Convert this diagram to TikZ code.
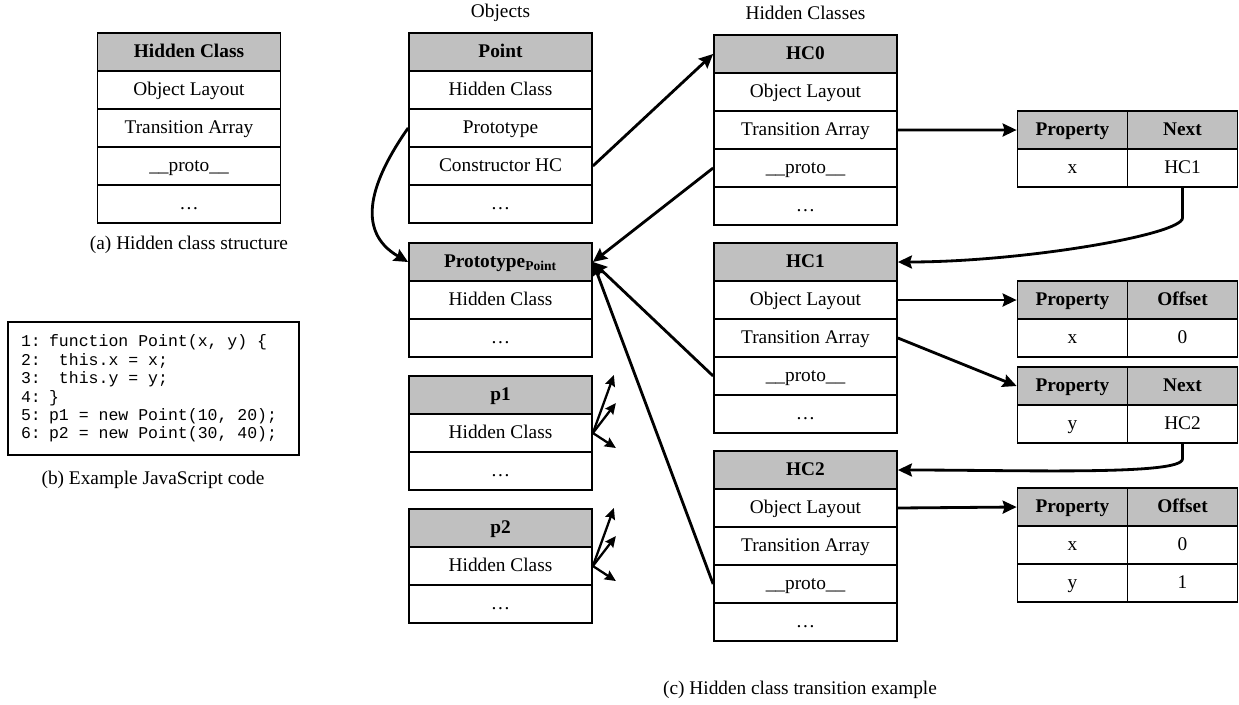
\documentclass[tikz,border=0pt]{standalone}
\usepackage{fontspec}
\setmainfont{Liberation Serif}
\newfontfamily\codefont{Liberation Mono}
\usetikzlibrary{arrows.meta}
\definecolor{hdrgray}{RGB}{192,192,192}
\newcommand{\boxfont}{\fontsize{11}{13}\selectfont}
\newcommand{\codespace}{\spaceskip=0.6em\relax}
\tikzstyle{head} = [rectangle, minimum width=3.66cm, minimum height=0.76cm, text height=0.8em, text depth=0.12em, text centered, draw=black, line width=1pt, fill=hdrgray, font=\boxfont\bfseries]
\tikzstyle{field} = [rectangle, minimum width=3.66cm, minimum height=0.76cm, text height=0.8em, text depth=0.12em, text centered, draw=black, line width=1pt, fill=white, font=\boxfont]
\tikzstyle{colhead} = [head, minimum width=2.2cm]
\tikzstyle{cell} = [field, minimum width=2.2cm]
\tikzstyle{code} = [rectangle, draw=black, line width=1pt, minimum width=5.82cm, minimum height=2.66cm, inner xsep=0.26cm, text width=5.3cm, align=left, font=\codefont\fontsize{9.4}{10.5}\selectfont]
\tikzstyle{caption} = [text centered, font=\boxfont]
\tikzstyle{arrow} = [line width=1.6pt,->,>={Stealth[length=2.8mm,width=2.6mm,inset=0.4mm]}]
\tikzstyle{fan} = [line width=1.3pt,->,>={Stealth[length=2.2mm,width=2mm,inset=0.3mm]}]

\begin{document}
\begin{tikzpicture}[node distance=0.76cm]
	\useasboundingbox (0,0) rectangle (24.78,-14.08);

	% (a) structure
	\node (hcA) [head] at (3.78,-1.04) {Hidden Class};
	\node (hcAol) [field, below of=hcA] {Object Layout};
	\node (hcAta) [field, below of=hcAol] {Transition Array};
	\node (hcApr) [field, below of=hcAta] {\_\_proto\_\_};
	\node (hcAdt) [field, below of=hcApr] {\dots};
	\node (capA) [caption] at (3.78,-4.9) {(a) Hidden class structure};

	% (b) code
	\node (code) [code] at (3.07,-7.77) {\codespace 1: function Point(x, y) \{\\\codespace 2: ~this.x = x;\\\codespace 3: ~this.y = y;\\4: \}\\\codespace 5: p1 = new Point(10, 20);\\\codespace 6: p2 = new Point(30, 40);};
	\node (capB) [caption] at (3.06,-9.6) {(b) Example JavaScript code};

	% objects
	\node (objlbl) [caption] at (10.01,-0.26) {Objects};
	\node (pt) [head] at (10.01,-1.04) {Point};
	\node (pthc) [field, below of=pt] {Hidden Class};
	\node (ptpr) [field, below of=pthc] {Prototype};
	\node (ptch) [field, below of=ptpr] {Constructor HC};
	\node (ptdt) [field, below of=ptch] {\dots};

	\node (pp) [head] at (10.01,-5.24) {Prototype\textsubscript{Point}};
	\node (pphc) [field, below of=pp] {Hidden Class};
	\node (ppdt) [field, below of=pphc] {\dots};

	\node (p1) [head] at (10.01,-7.90) {p1};
	\node (p1hc) [field, below of=p1] {Hidden Class};
	\node (p1dt) [field, below of=p1hc] {\dots};

	\node (p2) [head] at (10.01,-10.56) {p2};
	\node (p2hc) [field, below of=p2] {Hidden Class};
	\node (p2dt) [field, below of=p2hc] {\dots};

	% hidden classes
	\node (hclbl) [caption] at (16.11,-0.26) {Hidden Classes};
	\node (hc0) [head] at (16.11,-1.08) {HC0};
	\node (hc0ol) [field, below of=hc0] {Object Layout};
	\node (hc0ta) [field, below of=hc0ol] {Transition Array};
	\node (hc0pr) [field, below of=hc0ta] {\_\_proto\_\_};
	\node (hc0dt) [field, below of=hc0pr] {\dots};

	\node (hc1) [head] at (16.11,-5.24) {HC1};
	\node (hc1ol) [field, below of=hc1] {Object Layout};
	\node (hc1ta) [field, below of=hc1ol] {Transition Array};
	\node (hc1pr) [field, below of=hc1ta] {\_\_proto\_\_};
	\node (hc1dt) [field, below of=hc1pr] {\dots};

	\node (hc2) [head] at (16.11,-9.40) {HC2};
	\node (hc2ol) [field, below of=hc2] {Object Layout};
	\node (hc2ta) [field, below of=hc2ol] {Transition Array};
	\node (hc2pr) [field, below of=hc2ta] {\_\_proto\_\_};
	\node (hc2dt) [field, below of=hc2pr] {\dots};

	% tables
	\node (t0p) [colhead] at (21.45,-2.60) {Property};
	\node (t0n) [colhead, right of=t0p, xshift=1.44cm] {Next};
	\node (t0x) [cell, below of=t0p] {x};
	\node (t0hc) [cell, below of=t0n] {HC1};

	\node (t1p) [colhead] at (21.45,-6.00) {Property};
	\node (t1o) [colhead, right of=t1p, xshift=1.44cm] {Offset};
	\node (t1x) [cell, below of=t1p] {x};
	\node (t1v) [cell, below of=t1o] {0};

	\node (t2p) [colhead] at (21.45,-7.72) {Property};
	\node (t2n) [colhead, right of=t2p, xshift=1.44cm] {Next};
	\node (t2y) [cell, below of=t2p] {y};
	\node (t2hc) [cell, below of=t2n] {HC2};

	\node (t3p) [colhead] at (21.45,-10.14) {Property};
	\node (t3o) [colhead, right of=t3p, xshift=1.44cm] {Offset};
	\node (t3x) [cell, below of=t3p] {x};
	\node (t3xv) [cell, below of=t3o] {0};
	\node (t3y) [cell, below of=t3x] {y};
	\node (t3yv) [cell, below of=t3xv] {1};

	\node (capC) [caption] at (16.0,-13.8) {(c) Hidden class transition example};

	% connectors
	\draw [arrow] (ptpr.west) to[out=235,in=150,looseness=1.2] (pp.west);
	\draw [arrow] (ptch.east) -- (hc0.west);
	\draw [arrow] (hc0pr.west) -- (pp.east);
	\draw [arrow] (hc1pr.west) -- (pp.east);
	\draw [arrow] (hc2pr.west) -- (pp.east);
	\draw [arrow] (hc0ta.east) -- (t0p.west);
	\draw [arrow] (t0hc.south) -- ++(0,-0.6) to[out=-90,in=0,out looseness=0.15,in looseness=1.1] (hc1.east);
	\draw [arrow] (hc1ol.east) -- (t1p.west);
	\draw [arrow] (hc1ta.east) -- (t2p.west);
	\draw [arrow] (t2hc.south) -- ++(0,-0.3) to[out=-90,in=0,out looseness=0.15,in looseness=1.1] (hc2.east);
	\draw [arrow] (hc2ol.east) -- (t3p.west);

	\foreach \obj in {p1,p2} {
		\foreach \tip/\dx/\dy in {a/0.42/1.16, b/0.46/0.6, c/0.46/-0.3} {
			\coordinate (\obj\tip) at ([shift={(\dx,\dy)}]\obj hc.east);
			\draw [fan] (\obj hc.east) -- (\obj\tip);
		}
	}

\end{tikzpicture}
\end{document}
